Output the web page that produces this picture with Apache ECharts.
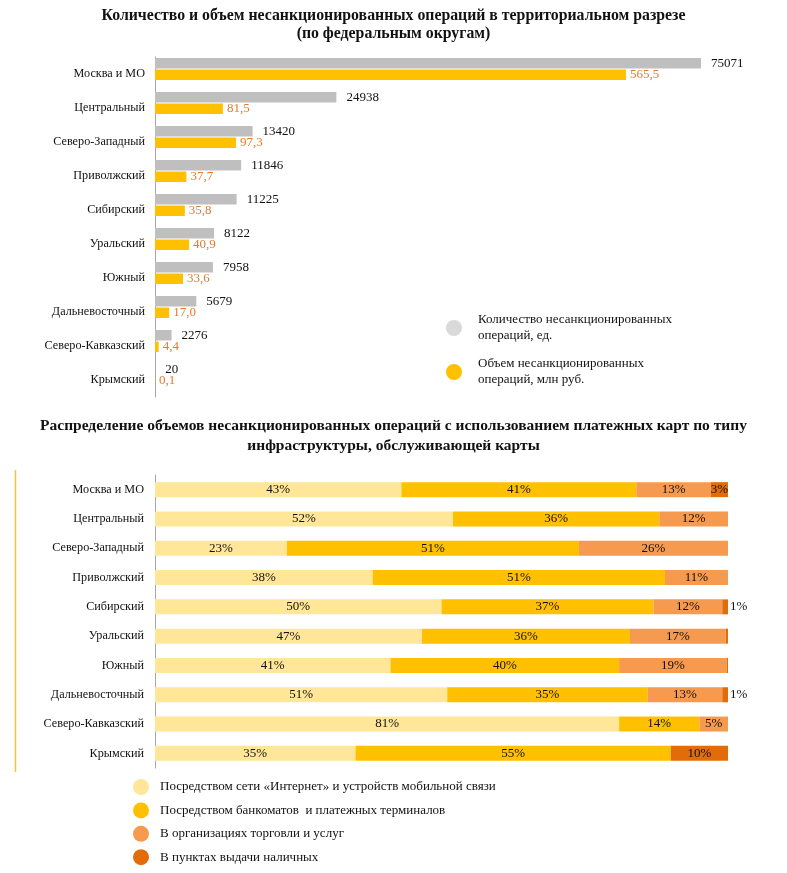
<!DOCTYPE html>
<html><head><meta charset="utf-8">
<script src="https://cdn.jsdelivr.net/npm/echarts@6/dist/echarts.min.js"></script>
<style>html,body{margin:0;padding:0;background:#fff}#c{width:787px;height:873px}</style>
</head><body><div id="c"></div>
<script>
const regions = ['Москва и МО','Центральный','Северо-Западный','Приволжский','Сибирский','Уральский','Южный','Дальневосточный','Северо-Кавказский','Крымский'];
const countOps = [75071,24938,13420,11846,11225,8122,7958,5679,2276,20];
const volumeOps = [565.5,81.5,97.3,37.7,35.8,40.9,33.6,17.0,4.4,0.1];
const countName = 'Количество несанкционированных\nопераций, ед.';
const volumeName = 'Объем несанкционированных\nопераций, млн руб.';

const shareNames = ['Посредством сети «Интернет» и устройств мобильной связи','Посредством банкоматов  и платежных терминалов','В организациях торговли и услуг','В пунктах выдачи наличных'];
const shareInternet = [43,52,23,38,50,46.6,41.1,51,81,35];
const shareAtm = [41,36,51,51,37,36.3,39.9,35,14,55];
const shareTrade = [13,12,26,11,12,16.7,18.8,13,5,0];
const shareCash = [3,0,0,0,1,0.4,0.2,1,0,10];

const title1 = 'Количество и объем несанкционированных операций в территориальном разрезе\n(по федеральным округам)';
const title2 = 'Распределение объемов несанкционированных операций с использованием платежных карт по типу\nинфраструктуры, обслуживающей карты';

const F = '"Liberation Serif", serif';
const shareColors = ['#FFE699','#FFC000','#F59A4E','#E36C0A'];
const shares = [shareInternet, shareAtm, shareTrade, shareCash];

const chart = echarts.init(document.getElementById('c'));
const pctFmt = p => (p.value < 0.5 ? '' : Math.round(p.value) + '%');

chart.setOption({
  animation: false,
  backgroundColor: '#fff',
  textStyle: {fontFamily: F},
  title: [
    {text: title1, left: 'center', top: 7, padding: 0, textStyle: {fontFamily: F, fontSize: 15.8, fontWeight: 'bold', color: '#111', lineHeight: 18}},
    {text: title2, left: 'center', top: 416, padding: 0, textStyle: {fontFamily: F, fontSize: 15.5, fontWeight: 'bold', color: '#111', lineHeight: 20}}
  ],
  graphic: [{type: 'line', shape: {x1: 15.5, y1: 470, x2: 15.5, y2: 772}, style: {stroke: '#F5C342', lineWidth: 1.5}}],
  legend: [
    {orient: 'vertical', left: 446, top: 312, padding: 0, itemWidth: 16, itemHeight: 16, itemGap: 12, icon: 'circle',
     textStyle: {fontFamily: F, fontSize: 13, color: '#111', lineHeight: 16, padding: [0,0,0,11]},
     data: [{name: countName, itemStyle: {color: '#D9D9D9'}}, {name: volumeName}]},
    {orient: 'vertical', left: 133, top: 779, padding: 0, height: 94, itemWidth: 16, itemHeight: 16, itemGap: 7.4, icon: 'circle',
     textStyle: {fontFamily: F, fontSize: 13, color: '#111', padding: [0,0,0,6]},
     data: shareNames}
  ],
  grid: [
    {left: 155, top: 57, width: 546, height: 340},
    {left: 155, top: 52, width: 546, height: 340},
    {left: 155, top: 475, right: 59, height: 293}
  ],
  xAxis: [
    {gridIndex: 0, type: 'value', show: false, min: 0, max: 1},
    {gridIndex: 1, type: 'value', show: false, min: 0, max: Math.max(...countOps)},
    {gridIndex: 1, type: 'value', show: false, min: 0, max: Math.max(...volumeOps) * 546 / 471},
    {gridIndex: 2, type: 'value', show: false, min: 0, max: 100}
  ],
  yAxis: [
    {gridIndex: 0, type: 'category', data: regions, inverse: true,
     axisLine: {lineStyle: {color: '#A6A6A6'}}, axisTick: {length: 3, lineStyle: {color: '#A6A6A6'}},
     axisLabel: {fontFamily: F, fontSize: 12.2, color: '#111', margin: 10}},
    {gridIndex: 1, type: 'category', data: regions, inverse: true, show: false},
    {gridIndex: 2, type: 'category', data: regions, inverse: true,
     axisLine: {lineStyle: {color: '#A6A6A6'}}, axisTick: {length: 3, lineStyle: {color: '#A6A6A6'}},
     axisLabel: {fontFamily: F, fontSize: 12.2, color: '#111', margin: 11}}
  ],
  series: [
    {name: countName, type: 'bar', xAxisIndex: 1, yAxisIndex: 1, data: countOps, barWidth: 10.5, barGap: '10%',
     itemStyle: {color: '#BFBFBF'},
     label: {show: true, position: 'right', distance: 10, fontFamily: F, fontSize: 13, color: '#111'}},
    {name: volumeName, type: 'bar', xAxisIndex: 2, yAxisIndex: 1, data: volumeOps, barWidth: 10.5, barGap: '10%',
     itemStyle: {color: '#FFC000'},
     label: {show: true, position: 'right', distance: 4, fontFamily: F, fontSize: 13, color: '#E47A2E',
       formatter: p => p.value.toFixed(1).replace('.', ',')}}
  ].concat(shares.map((arr, i) => ({
    name: shareNames[i], type: 'bar', stack: 'share', xAxisIndex: 3, yAxisIndex: 2, barWidth: 15,
    itemStyle: {color: shareColors[i]},
    label: {show: true, position: 'inside', fontFamily: F, fontSize: 13, color: '#111', formatter: pctFmt},
    data: arr.map(v => (i === 3 && v > 0 && v < 2) ? {value: v, label: {position: 'right', distance: 2}} : v)
  })))
});
</script></body></html>
